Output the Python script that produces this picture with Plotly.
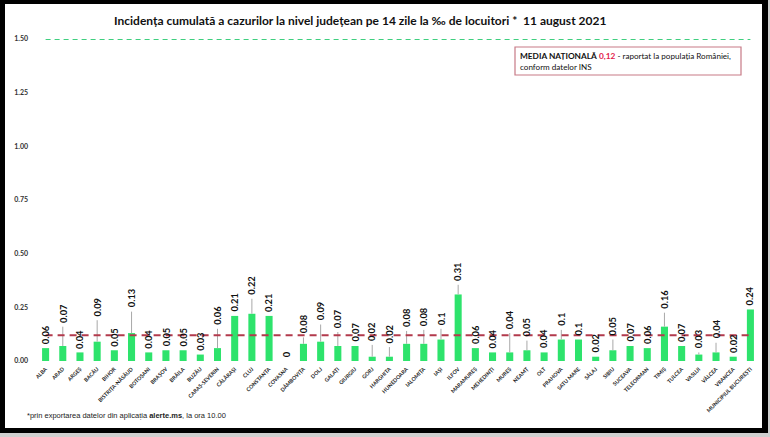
import plotly.graph_objects as go

# ---------------- data ----------------
counties = [
    "ALBA", "ARAD", "ARGEȘ", "BACĂU", "BIHOR", "BISTRIȚA-NĂSĂUD", "BOTOȘANI",
    "BRAȘOV", "BRĂILA", "BUZĂU", "CARAȘ-SEVERIN", "CĂLĂRAȘI", "CLUJ",
    "CONSTANȚA", "COVASNA", "DÂMBOVIȚA", "DOLJ", "GALAȚI", "GIURGIU", "GORJ",
    "HARGHITA", "HUNEDOARA", "IALOMIȚA", "IAȘI", "ILFOV", "MARAMUREȘ",
    "MEHEDINȚI", "MUREȘ", "NEAMȚ", "OLT", "PRAHOVA", "SATU MARE", "SĂLAJ",
    "SIBIU", "SUCEAVA", "TELEORMAN", "TIMIȘ", "TULCEA", "VASLUI", "VÂLCEA",
    "VRANCEA", "MUNICIPIUL BUCUREȘTI",
]
incidence = [
    0.06, 0.07, 0.04, 0.09, 0.05, 0.13, 0.04,
    0.05, 0.05, 0.03, 0.06, 0.21, 0.22,
    0.21, 0, 0.08, 0.09, 0.07, 0.07, 0.02,
    0.02, 0.08, 0.08, 0.1, 0.31, 0.06,
    0.04, 0.04, 0.05, 0.04, 0.1, 0.1, 0.02,
    0.05, 0.07, 0.06, 0.16, 0.07, 0.03, 0.04,
    0.02, 0.24,
]
# grey whiskers above some bars (upper error values)
error_plus = [
    0, 0.09, 0, 0.10, 0, 0.10, 0,
    0, 0, 0, 0.09, 0, 0.07,
    0, 0, 0.03, 0.08, 0.065, 0, 0.055,
    0.045, 0.06, 0.065, 0.05, 0.045, 0,
    0, 0.09, 0.045, 0, 0.045, 0, 0,
    0.05, 0, 0, 0.065, 0, 0.01, 0.045,
    0, 0,
]
national_average = 0.12
threshold = 1.5
y_ticks = [0, 0.25, 0.5, 0.75, 1.0, 1.25, 1.5]
y_tick_labels = ["0.00", "0.25", "0.50", "0.75", "1.00", "1.25", "1.50"]

title_text = ("Incidența cumulată a cazurilor la nivel județean pe 14 zile "
              "la ‰ de locuitori *  11 august 2021")
footnote_text = ("*prin exportarea datelor din aplicația <b>alerte.ms</b>, "
                 "la ora 10.00")

# ---------------- layout geometry (pixels) ----------------
W, H = 770, 437
ML, MR, MT, MB = 37, 11, 39, 76
PW, PH = W - ML - MR, H - MT - MB


def px(x):
    return (x - ML) / PW


def py(y):
    return (H - MB - y) / PH


FONT = "Lato, 'Open Sans', sans-serif"

fig = go.Figure()

fig.add_trace(go.Bar(
    x=counties, y=incidence,
    marker=dict(color="#2ee36c", line=dict(width=0)),
    error_y=dict(type="data", array=error_plus, symmetric=False,
                 arrayminus=[0] * len(error_plus),
                 color="#a8a8a8", thickness=1, width=0),
    hoverinfo="x+y",
))

fig.add_trace(go.Scatter(
    x=counties, y=[threshold] * len(counties), mode="lines",
    line=dict(color="#3fcf7f", width=1.8, dash="5px,4px"),
    hoverinfo="skip",
))
fig.add_trace(go.Scatter(
    x=counties, y=[national_average] * len(counties), mode="lines",
    line=dict(color="#b23a4c", width=2, dash="7px,5px"),
    hoverinfo="skip",
))

annotations = []
for c, v, e in zip(counties, incidence, error_plus):
    annotations.append(dict(
        x=c, y=v + e, xref="x", yref="y", text="{:g}".format(v),
        textangle=-90, showarrow=False, yanchor="bottom", xanchor="center",
        yshift=2, font=dict(family=FONT, size=9.3, color="#111111", weight="bold"),
    ))

annotations.append(dict(
    x=px(360), y=py(20), xref="paper", yref="paper", text="<b>" + title_text + "</b>",
    showarrow=False, xanchor="center", yanchor="middle",
    font=dict(family=FONT, size=12, color="#111111"),
))
annotations.append(dict(
    x=px(25), y=py(415), xref="paper", yref="paper", text=footnote_text,
    showarrow=False, xanchor="left", yanchor="middle",
    font=dict(family="'Liberation Sans', Arial, sans-serif", size=7.5, color="#222222"),
))
annotations.append(dict(
    x=px(518), y=py(61), xref="paper", yref="paper",
    text=("<b>MEDIA NAȚIONALĂ</b> <span style='color:#e3204a'><b>0,12</b></span>"
          "<span style='font-size:8.1px'> - raportat la populația României,</span><br>"
          "<span style='font-size:8.1px'>conform datelor INS</span>"),
    showarrow=False, xanchor="left", yanchor="middle", align="left",
    font=dict(family=FONT, size=8.3, color="#111111"),
))

shapes = [
    dict(type="rect", xref="paper", yref="paper", layer="below",
         x0=px(0), x1=px(768), y0=py(0), y1=py(433),
         fillcolor="#000000", line=dict(width=0)),
    dict(type="rect", xref="paper", yref="paper", layer="below",
         x0=px(5), x1=px(762), y0=py(4), y1=py(428),
         fillcolor="#ffffff", line=dict(width=0)),
    dict(type="rect", xref="paper", yref="paper", layer="above",
         x0=px(515), x1=px(741), y0=py(47), y1=py(75),
         fillcolor="rgba(0,0,0,0)", line=dict(color="#c77a86", width=1.2)),
]

fig.update_layout(
    width=W, height=H,
    margin=dict(l=ML, r=MR, t=MT, b=MB, pad=0),
    paper_bgcolor="#cfcfcf", plot_bgcolor="rgba(0,0,0,0)",
    showlegend=False, bargap=0.59,
    annotations=annotations, shapes=shapes,
    xaxis=dict(type="category", tickangle=-45, showgrid=False, zeroline=False,
               showline=False, ticks="", ticklabelstandoff=3,
               tickfont=dict(family=FONT, size=5.3, color="#222222", weight="bold")),
    yaxis=dict(range=[0, 1.5], tickvals=y_ticks, ticktext=y_tick_labels,
               showgrid=False, zeroline=False, showline=False, ticks="",
               ticklabelstandoff=8,
               tickfont=dict(family=FONT, size=7, color="#333333", weight="bold")),
)

fig.write_html(
    "out.html",
    config={"displayModeBar": False},
    post_script="document.documentElement.style.margin='0';"
                "document.body.style.margin='0';"
                "document.body.style.overflow='hidden';",
)
